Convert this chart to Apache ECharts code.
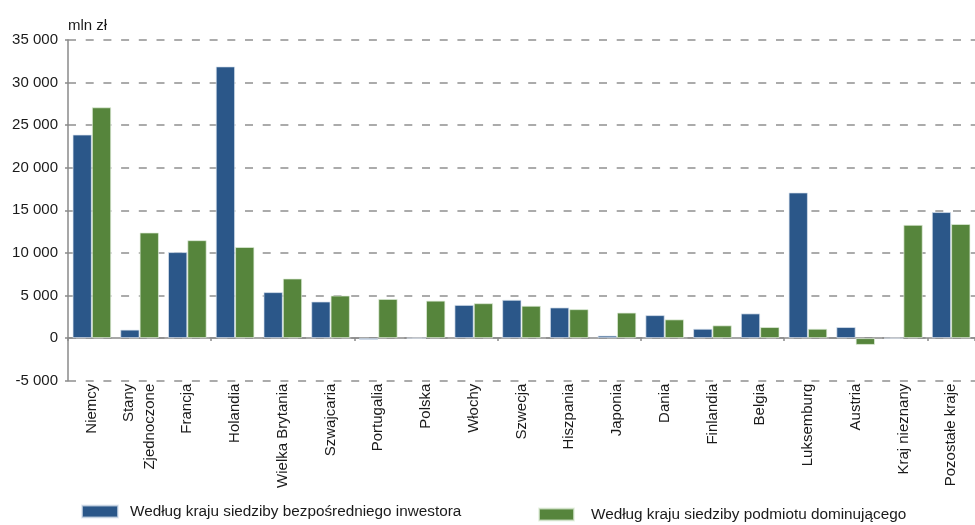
<!DOCTYPE html>
<html>
<head>
<meta charset="utf-8">
<script src="https://cdn.jsdelivr.net/npm/echarts@6/dist/echarts.min.js"></script>
<style>
  html, body { margin: 0; padding: 0; background: #fff; }
  #chart { width: 975px; height: 525px; }
</style>
</head>
<body>
<div id="chart"></div>
<script>
// Kraje (kategorie osi X)
const countries = [
  'Niemcy', 'Stany\nZjednoczone', 'Francja', 'Holandia', 'Wielka Brytania',
  'Szwajcaria', 'Portugalia', 'Polska', 'Włochy', 'Szwecja', 'Hiszpania',
  'Japonia', 'Dania', 'Finlandia', 'Belgia', 'Luksemburg', 'Austria',
  'Kraj nieznany', 'Pozostałe kraje'
];

// Według kraju siedziby bezpośredniego inwestora (mln zł)
const directInvestor = [
  23900, 1000, 10100, 31900, 5400, 4300, -200, 0, 3900, 4500, 3600,
  300, 2700, 1100, 2900, 17100, 1300, 0, 14800
];

// Według kraju siedziby podmiotu dominującego (mln zł)
const ultimateParent = [
  27100, 12400, 11500, 10700, 7000, 5000, 4600, 4400, 4100, 3800, 3400,
  3000, 2200, 1500, 1300, 1100, -800, 13300, 13400
];

// Oś Y
const yTicks = { min: -5000, max: 35000, interval: 5000 };
const seriesNames = [
  'Według kraju siedziby bezpośredniego inwestora',
  'Według kraju siedziby podmiotu dominującego'
];

const chart = echarts.init(document.getElementById('chart'), null, { renderer: 'canvas' });

const FONT = '"Liberation Sans", Arial, sans-serif';
const TEXT = '#1a1a1a';
const FS = 15;

chart.setOption({
  animation: false,
  backgroundColor: '#ffffff',
  textStyle: { fontFamily: FONT },
  grid: { left: 68, top: 40, width: 918, height: 340.7, containLabel: false },
  legend: [
    {
      data: [seriesNames[0]],
      left: 81, top: 504,
      padding: 0,
      itemWidth: 36, itemHeight: 12, itemGap: 12,
      icon: 'rect',
      textStyle: { fontSize: 15.3, color: TEXT, fontFamily: FONT, padding: [0, 0, 0, 7] }
    },
    {
      data: [seriesNames[1]],
      left: 538, top: 507,
      padding: 0,
      itemWidth: 35, itemHeight: 12,
      icon: 'rect',
      textStyle: { fontSize: 15.3, color: TEXT, fontFamily: FONT, padding: [0, 0, 0, 12] }
    }
  ],
  xAxis: [
    {
      type: 'category',
      data: countries,
      position: 'bottom',
      axisLine: { show: false, onZero: false },
      axisTick: { show: false },
      axisLabel: {
        rotate: 90,
        interval: 0,
        margin: 3,
        fontSize: FS,
        lineHeight: 21,
        color: TEXT,
        fontFamily: FONT
      }
    },
    {
      type: 'category',
      data: countries,
      position: 'bottom',
      axisLine: { show: true, onZero: true, lineStyle: { color: '#8a8a8a', width: 1.5 } },
      axisTick: { show: true, length: 3, inside: false, lineStyle: { color: '#8a8a8a', width: 1.5 } },
      axisLabel: { show: false }
    }
  ],
  yAxis: {
    type: 'value',
    min: yTicks.min,
    max: yTicks.max,
    interval: yTicks.interval,
    name: 'mln zł',
    nameLocation: 'end',
    nameGap: 7,
    nameTextStyle: { fontSize: FS, color: TEXT, fontFamily: FONT, align: 'left', padding: [0, 0, 0, 0] },
    axisLine: { show: true, lineStyle: { color: '#8a8a8a', width: 1.5 } },
    axisTick: { show: true, length: 3, lineStyle: { color: '#8a8a8a', width: 1.5 } },
    axisLabel: {
      fontSize: FS,
      color: TEXT,
      fontFamily: FONT,
      margin: 10,
      formatter: v => {
        const s = Math.abs(v).toString().replace(/\B(?=(\d{3})+(?!\d))/g, ' ');
        return (v < 0 ? '-' : '') + s;
      }
    },
    splitLine: {
      show: true,
      lineStyle: { color: '#909090', width: 1.5, type: [8, 9.7] }
    }
  },
  series: [
    {
      name: seriesNames[0],
      type: 'bar',
      xAxisIndex: 0,
      data: directInvestor,
      barGap: '0%',
      barCategoryGap: '19%',
      itemStyle: { color: '#2B5789', borderColor: 'rgba(220,228,240,0.7)', borderWidth: 1 }
    },
    {
      name: seriesNames[1],
      type: 'bar',
      xAxisIndex: 0,
      data: ultimateParent,
      barGap: '0%',
      barCategoryGap: '19%',
      itemStyle: { color: '#56853C', borderColor: 'rgba(225,238,220,0.7)', borderWidth: 1 }
    }
  ]
});
</script>
</body>
</html>
